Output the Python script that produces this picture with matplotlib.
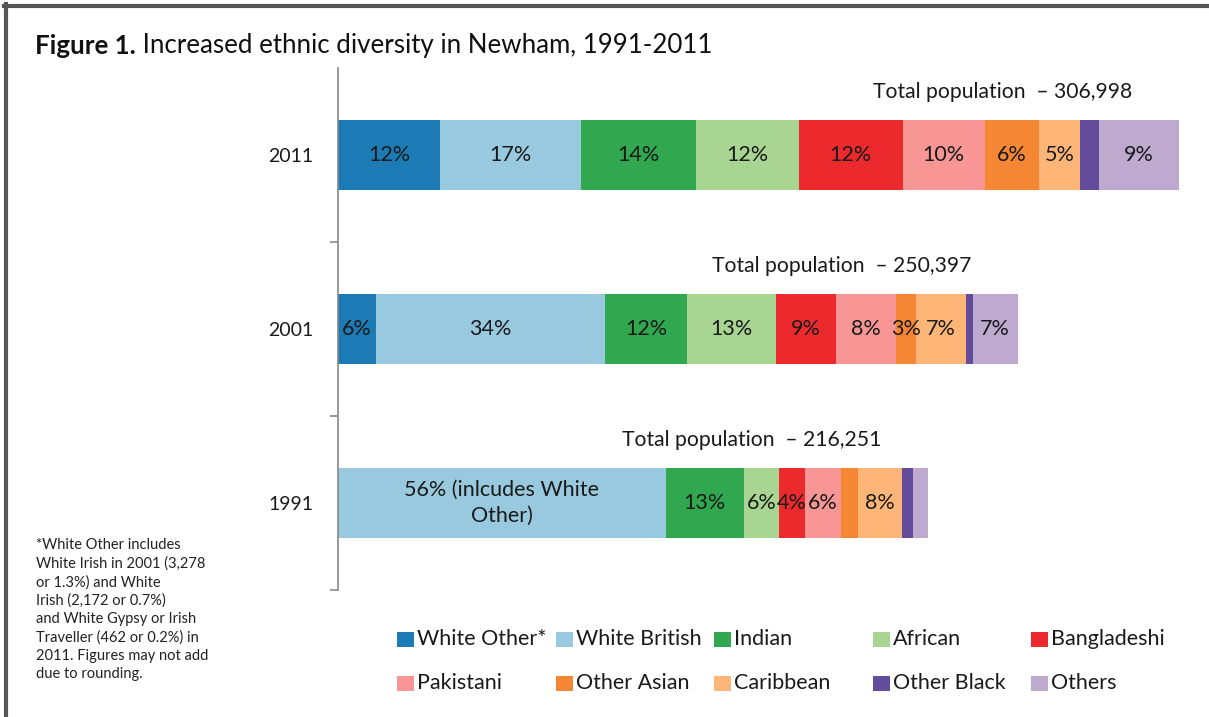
import matplotlib.pyplot as plt
from matplotlib.patches import Rectangle
from matplotlib.lines import Line2D

plt.rcParams['font.family'] = ['Lato', 'DejaVu Sans']

# population by group, thousands of people
groups = ['White Other*', 'White British', 'Indian', 'African', 'Bangladeshi',
          'Pakistani', 'Other Asian', 'Caribbean', 'Other Black', 'Others']
years = ['2011', '2001', '1991']
pop_2011 = [37.2, 51.4, 42.1, 37.7, 37.8, 30.0, 19.9, 15.1, 6.8, 29.0]
pop_2001 = [13.8, 83.9, 29.8, 32.4, 21.9, 21.9, 7.6, 18.1, 2.4, 16.5]
pop_1991 = [0.0, 119.7, 28.5, 12.9, 9.3, 13.2, 6.3, 16.2, 4.0, 5.3]
lab_2011 = ['12%', '17%', '14%', '12%', '12%', '10%', '6%', '5%', '', '9%']
lab_2001 = ['6%', '34%', '12%', '13%', '9%', '8%', '3%', '7%', '', '7%']
lab_1991 = ['', '56% (inlcudes White\nOther)', '13%', '6%', '4%', '6%', '', '8%', '', '']
totals = ['306,998', '250,397', '216,251']

colors = ['#1c7ab4', '#99c9de', '#31a84f', '#a8d591', '#ec2a2e',
          '#f89595', '#f58634', '#fdb677', '#624c9b', '#bea9cf']

pops = [pop_2011, pop_2001, pop_1991]
labs = [lab_2011, lab_2001, lab_1991]

W, H = 1209, 717
fig = plt.figure(figsize=(W / 100, H / 100), dpi=100)
ax = fig.add_axes([338 / W, 1 - 590 / H, 852 / W, 522 / H])

for i, (vals, lab) in enumerate(zip(pops, labs)):
    left = 0
    for j, v in enumerate(vals):
        if v > 0:
            ax.barh(i, v, left=left, height=0.4, color=colors[j], edgecolor='none')
        if lab[j]:
            ax.text(left + v / 2, i, lab[j], ha='center', va='center',
                    fontsize=15.5, color='#1a1a1a', linespacing=1.35)
        left += v
    ax.text(left - 16.8, i - 0.36, 'Total population  \u2013 ' + totals[i],
            ha='right', va='center', fontsize=15.2, color='#1a1a1a')

ax.set_xlim(0, 311.2)
ax.set_ylim(2.5, -0.5)
ax.set_xticks([])
ax.set_yticks(range(len(years)))
ax.set_yticklabels(years, fontsize=14, color='#1a1a1a')
ax.tick_params(axis='y', which='major', length=0, pad=18)
ax.set_yticks([0.5, 1.5, 2.5], minor=True)
ax.tick_params(axis='y', which='minor', length=6, color='#888888', width=1.2)
for s in ['top', 'right', 'bottom']:
    ax.spines[s].set_visible(False)
ax.spines['left'].set_color('#888888')
ax.spines['left'].set_linewidth(1.2)

# title: bold part then regular part
t1 = fig.text(35 / W, 1 - 54 / H, 'Figure 1.', fontsize=18.6, fontweight='bold',
              color='#111111', va='baseline')
ax.annotate(' Increased ethnic diversity in Newham, 1991-2011', xy=(1, 0),
            xycoords=t1, va='bottom', fontsize=18.6, color='#111111',
            annotation_clip=False)

# footnote
note = ('*White Other includes\nWhite Irish in 2001 (3,278\nor 1.3%) and White\n'
        'Irish (2,172 or 0.7%)\nand White Gypsy or Irish\nTraveller (462 or 0.2%) in\n'
        '2011. Figures may not add\ndue to rounding.')
fig.text(36 / W, 1 - 538 / H, note, fontsize=10.5, color='#222222',
         va='top', ha='left', linespacing=1.38)

# legend, 2 rows x 5 columns, equally spaced
col_x = [397, 556, 714, 873, 1031]
row_y = [639, 683]
for k, g in enumerate(groups):
    r, c = divmod(k, 5)
    x0 = col_x[c]
    y0 = row_y[r]
    fig.add_artist(Rectangle((x0 / W, 1 - (y0 + 7.5) / H), 16.5 / W, 15 / H,
                             transform=fig.transFigure, color=colors[k], lw=0))
    fig.text((x0 + 20) / W, 1 - y0 / H, g, fontsize=15.5, color='#1a1a1a',
             va='center', ha='left')

# dark frame on top and left edges
fig.add_artist(Line2D([4 / W, 1], [1 - 6 / H, 1 - 6 / H], color='#555555',
                      lw=3, transform=fig.transFigure))
fig.add_artist(Line2D([6 / W, 6 / W], [0, 1 - 4 / H], color='#555555',
                      lw=3, transform=fig.transFigure))

fig.savefig('out.png', dpi=100)
